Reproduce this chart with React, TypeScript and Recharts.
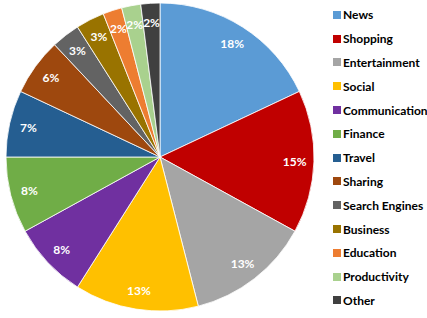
import React from "react";
import { PieChart, Pie, Cell, Legend } from "recharts";

const categories = [
  "News",
  "Shopping",
  "Entertainment",
  "Social",
  "Communication",
  "Finance",
  "Travel",
  "Sharing",
  "Search Engines",
  "Business",
  "Education",
  "Productivity",
  "Other",
];
const shares = [18, 15, 13, 13, 8, 8, 7, 6, 3, 3, 2, 2, 2];
const colors = [
  "#5B9BD5",
  "#C00000",
  "#A5A5A5",
  "#FFC000",
  "#7030A0",
  "#70AD47",
  "#255E91",
  "#9E480E",
  "#636363",
  "#997300",
  "#ED7D31",
  "#A9D18E",
  "#404040",
];

const data = categories.map((name, i) => ({ name, value: shares[i] }));

const FONT = "Lato, 'Open Sans', sans-serif";
const RAD = Math.PI / 180;

const renderLabel = (props: any) => {
  const { cx, cy, midAngle, outerRadius, value } = props;
  const r = outerRadius * 0.875;
  const x = cx + r * Math.cos(-midAngle * RAD);
  const y = cy + r * Math.sin(-midAngle * RAD);
  return (
    <text
      x={x}
      y={y}
      fill="#ffffff"
      fontFamily={FONT}
      fontWeight={700}
      fontSize={12}
      textAnchor="middle"
      dominantBaseline="central"
    >
      {`${value}%`}
    </text>
  );
};

const renderLegend = () => (
  <div style={{ fontFamily: FONT, fontWeight: 700, fontSize: 12, color: "#000" }}>
    {categories.map((name, i) => (
      <div
        key={name}
        style={{
          display: "flex",
          alignItems: "center",
          height: 23.8,
          whiteSpace: "nowrap",
        }}
      >
        <span
          style={{
            display: "inline-block",
            width: 8,
            height: 8,
            background: colors[i],
            marginRight: 2,
          }}
        />
        <span>{name}</span>
      </div>
    ))}
  </div>
);

export default function App() {
  return (
    <div style={{ position: "absolute", left: 0, top: 0, width: 427, height: 318, background: "#fff", overflow: "hidden" }}>
      <PieChart width={427} height={318} margin={{ top: 0, right: 0, bottom: 0, left: 0 }}>
        <Pie
          data={data}
          dataKey="value"
          nameKey="name"
          cx={160}
          cy={157}
          outerRadius={154}
          startAngle={90}
          endAngle={-270}
          stroke="#ffffff"
          strokeWidth={0.8}
          label={renderLabel}
          labelLine={false}
          isAnimationActive={false}
        >
          {data.map((d, i) => (
            <Cell key={d.name} fill={colors[i]} />
          ))}
        </Pie>
        <Legend
          layout="vertical"
          content={renderLegend}
          wrapperStyle={{ position: "absolute", left: 333, top: 3, width: 110 }}
        />
      </PieChart>
    </div>
  );
}
